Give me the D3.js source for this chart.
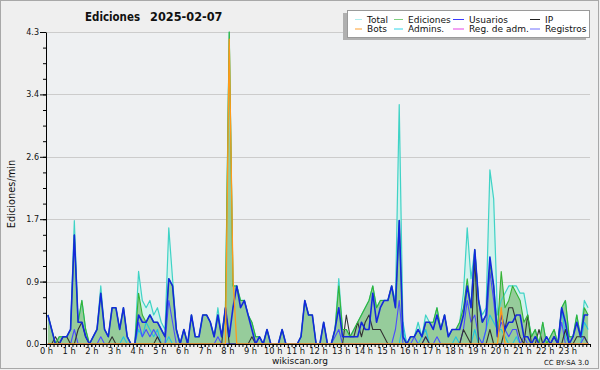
<!DOCTYPE html>
<html>
<head>
<meta charset="utf-8">
<script src="https://cdn.jsdelivr.net/npm/d3@7/dist/d3.min.js"></script>
<style>
  body { margin: 0; background: #efefef; }
  text { font-family: "DejaVu Sans", sans-serif; fill: #111; }
</style>
</head>
<body>
<script>
// 10-minute buckets, edits per minute
var categories = ["Total", "Ediciones", "Usuarios", "IP", "Bots", "Admins.", "Reg. de adm.", "Registros"];
var hourLabels = ["0 h","1 h","2 h","3 h","4 h","5 h","6 h","7 h","8 h","9 h","10 h","11 h",
                  "12 h","13 h","14 h","15 h","16 h","17 h","18 h","19 h","20 h","21 h","22 h","23 h"];
var yTicks = [0, 0.86, 1.72, 2.58, 3.44, 4.3];

var total = [
  0.4,0.2,0,0.1,0.1,0.1,0.2,1.7,0.3,0.6,0.2,0,
  0.1,0.2,0.8,0.2,0.1,0.5,0.5,0.2,0.5,0.1,0,0,
  1.0,0.6,0.5,0.6,0.4,0.5,0.3,0.2,1.6,0.9,0.2,0,
  0.2,0,0.4,0.1,0.1,0.4,0.4,0.3,0.1,0.5,0.1,0.5,
  4.3,0.8,0.8,0.6,0.6,0.4,0.3,0.1,0.1,0,0.2,0,
  0,0,0.2,0,0,0,0,0.1,0.6,0.4,0.4,0,
  0,0.3,0,0,0.2,0.9,0.2,0.2,0.1,0.2,0.3,0.4,
  0.5,0.6,0.8,0.5,0.6,0.6,0.6,0.8,0.6,3.3,0.2,0,
  0.1,0.1,0.3,0.1,0.4,0.3,0.3,0.5,0.2,0.4,0.1,0.2,
  0.2,0.3,0.7,1.6,0.9,1.3,0.6,0.4,0.5,2.4,2.0,0.4,
  0.6,0.7,0.8,0.8,0.8,0.7,0.7,0.4,0.1,0.2,0,0.3,
  0,0.1,0.2,0,0.5,0.6,0.1,0.1,0.4,0.1,0.6,0.5
];
var ediciones = [
  0.4,0.2,0,0.1,0.1,0.1,0.2,1.5,0.3,0.6,0.2,0,
  0.1,0.2,0.7,0.2,0.1,0.5,0.5,0.2,0.5,0.1,0,0,
  0.7,0.4,0.3,0.4,0.3,0.3,0.2,0.1,0.9,0.8,0.2,0,
  0.2,0,0.4,0.1,0.1,0.4,0.4,0.3,0.1,0.4,0.1,0.5,
  4.3,0.8,0.8,0.6,0.6,0.4,0.3,0.1,0.1,0,0.2,0,
  0,0,0.2,0,0,0,0,0.1,0.6,0.4,0.4,0,
  0,0.3,0,0,0.2,0.8,0.2,0.2,0.1,0.2,0.3,0.4,
  0.5,0.6,0.8,0.5,0.6,0.6,0.6,0.8,0.5,1.7,0.1,0,
  0.1,0.1,0.2,0.1,0.3,0.3,0.3,0.5,0.2,0.4,0.1,0.2,
  0.2,0.3,0.5,0.9,0.5,1.3,0.6,0.3,0.4,1.1,0.8,0.2,
  1.0,0.5,0.6,0.8,0.7,0.6,0.3,0.4,0.1,0.2,0,0.3,
  0,0.1,0.2,0,0.5,0.6,0.1,0.1,0.4,0.1,0.5,0.4
];
var usuarios = [
  0.4,0.2,0,0,0.1,0.1,0.2,1.5,0.3,0.3,0.1,0,
  0.1,0.2,0.7,0.2,0.1,0.5,0.5,0.2,0.5,0.1,0,0,
  0.4,0.3,0.3,0.4,0.3,0.3,0.2,0.1,0.9,0.8,0.2,0,
  0.2,0,0.4,0.1,0.1,0.4,0.4,0.3,0.1,0.4,0.1,0.5,
  0.1,0.5,0.8,0.5,0.6,0.4,0.2,0,0.1,0,0.2,0,
  0,0,0.2,0,0,0,0,0.1,0.6,0.4,0.4,0,
  0,0.3,0,0,0.2,0.5,0.1,0.1,0.1,0.1,0.1,0.3,
  0.2,0.2,0.7,0.3,0.5,0.6,0.6,0.8,0.5,1.7,0.1,0,
  0.1,0.1,0.2,0.1,0.3,0.3,0.2,0.4,0.2,0.4,0.1,0.2,
  0.2,0.2,0.4,0.8,0.5,1.3,0.6,0.3,0.4,1.2,0.8,0.1,
  0.4,0.2,0.3,0.3,0.4,0.4,0.1,0.1,0,0.1,0,0,
  0.1,0,0.1,0,0.5,0.3,0,0.1,0.3,0.1,0.4,0.4
];
var ip = [
  0,0,0.1,0,0.1,0.1,0,0,0.2,0.3,0.1,0,
  0,0,0,0,0,0.1,0,0,0,0,0,0,
  0,0,0,0,0,0.1,0,0,0,0,0,0,
  0,0,0,0,0,0,0,0,0,0,0,0.5,
  0,0,0,0,0,0,0.1,0,0,0,0,0,
  0,0,0,0,0,0,0,0,0,0,0,0,
  0,0,0,0,0,0,0,0.4,0.1,0.1,0.3,0.1,
  0.3,0.4,0.2,0.2,0.2,0.1,0,0,0,0,0,0,
  0,0,0,0,0.1,0,0,0,0,0,0,0,
  0,0,0.2,0.1,0,1.2,0,0,0,0.2,0,0,
  0,0.2,0.5,0.5,0.3,0.1,0,0.4,0,0,0.2,0,
  0,0,0.1,0,0,0.2,0,0,0.1,0.1,0.1,0
];
var bots = [
  0,0,0,0,0,0,0,0,0,0,0,0,
  0,0,0,0,0,0,0,0,0,0,0,0,
  0,0,0,0,0,0,0,0,0,0,0,0,
  0,0,0,0,0,0,0,0,0,0,0,0,
  4.2,0.9,0,0,0,0,0,0,0,0,0,0,
  0,0,0,0,0,0,0,0,0,0,0,0,
  0,0,0,0,0,0,0,0,0,0,0,0,
  0,0,0,0,0,0,0,0,0,0,0,0,
  0,0,0,0,0,0,0,0,0,0,0,0,
  0,0,0,0,0,0,0,0,0,0,0,0,
  0.5,0,0,0,0,0,0,0,0,0,0,0,
  0,0,0,0,0,0,0,0,0,0,0,0
];
var admins = [
  0,0,0,0,0,0,0,0,0,0,0,0,
  0,0,0,0,0,0,0,0,0.1,0,0,0,
  0.2,0.1,0.3,0.2,0.1,0.2,0,0,0.1,0,0,0,
  0,0,0,0,0,0,0,0,0,0,0,0,
  0,0,0,0,0,0,0,0,0,0,0,0,
  0,0,0,0,0,0,0,0,0,0,0,0,
  0,0,0,0,0,0,0,0,0,0,0,0,
  0,0,0,0,0,0,0,0,0,0,0.3,0,
  0,0,0,0.1,0.2,0,0,0,0,0,0,0,
  0.1,0,0,0,0,0.2,0,0,0.2,0.4,0.3,0.2,
  0.2,0.1,0,0,0.1,0,0,0,0,0,0,0,
  0,0,0,0,0.5,0.1,0,0,0,0,0.3,0.2
];
var regAdm = [
  0,0,0,0,0,0,0,0,0,0,0,0,
  0,0,0,0,0,0,0,0,0,0,0,0,
  0,0,0,0,0,0,0,0,0,0,0,0,
  0,0,0,0,0,0,0,0,0,0,0,0,
  0,0,0,0,0,0,0,0,0,0,0,0,
  0,0,0,0,0,0,0,0,0,0,0,0,
  0,0,0,0,0,0,0,0,0,0,0,0,
  0,0,0,0,0,0,0,0,0,0,0,0,
  0,0,0,0,0,0,0,0,0,0,0,0,
  0,0,0,0,0,0,0,0,0,0,0,0,
  0,0,0,0,0,0,0,0,0,0,0,0,
  0,0,0,0,0,0,0,0,0,0,0,0
];
var registros = [
  0,0,0,0,0,0,0,0.2,0,0,0,0,
  0,0,0.1,0,0,0,0,0,0,0,0,0,
  0.3,0.1,0.2,0.1,0.2,0.1,0,0,0.6,0.3,0,0,
  0,0,0,0,0,0,0,0,0,0.1,0,0,
  0,0,0,0,0,0,0,0,0.1,0,0,0,
  0,0,0,0,0,0,0,0,0,0,0,0,
  0,0,0,0,0.1,0.2,0,0,0,0,0,0,
  0,0,0,0,0,0,0,0,0.2,0.6,0,0,
  0,0.1,0,0,0.1,0,0,0.1,0,0,0,0,
  0,0,0.2,0.6,0.3,0.4,0.1,0,0.2,1.0,0.6,0.1,
  0.3,0.2,0.1,0.2,0.2,0,0.1,0,0,0,0,0,
  0,0,0,0,0.3,0,0,0,0,0,0.1,0
];

function init() {
    var w = 600, h = 370;
    var left = 46, right = 590, top = 32, bottom = 344;

    var svg = d3.select("body").append("svg")
        .attr("width", w)
        .attr("height", h);

    // outer frame
    svg.append("rect")
        .attr("x", 0.5).attr("y", 0.5)
        .attr("width", w - 2).attr("height", h - 2)
        .attr("fill", "#efefef")
        .attr("stroke", "#a8a8a8");

    // plot background
    svg.append("rect")
        .attr("x", left).attr("y", top)
        .attr("width", right - left).attr("height", bottom - top)
        .attr("fill", "#eef0f2");

    var x = d3.scaleLinear().domain([0, 1440]).range([left, right]);
    var y = d3.scaleLinear().domain([0, 4.3]).range([bottom, top]);

    // grid
    svg.append("g").selectAll("line")
        .data(yTicks.slice(1))
        .enter().append("line")
        .attr("x1", left).attr("x2", right)
        .attr("y1", function (d) { return Math.round(y(d)) + 0.5; })
        .attr("y2", function (d) { return Math.round(y(d)) + 0.5; })
        .attr("stroke", "#cccccc");

    // bucket centre in minutes
    function minute(i) { return i * 10 + 5; }

    var area = d3.area()
        .x(function (d, i) { return x(minute(i)); })
        .y0(bottom)
        .y1(function (d) { return y(d); });
    var line = d3.line()
        .x(function (d, i) { return x(minute(i)); })
        .y(function (d) { return y(d); });

    var plot = svg.append("g");

    plot.append("path").datum(total)
        .attr("d", area).attr("fill", "#cdf2ec").attr("fill-opacity", 0.85);
    plot.append("path").datum(ediciones)
        .attr("d", area).attr("fill", "#8cc68c").attr("fill-opacity", 0.85);

    var lines = [
        { data: total,     color: "#3fd3c6", width: 1.2 },
        { data: admins,    color: "#22c4dc", width: 1.1 },
        { data: regAdm,    color: "#e23ce2", width: 1.1 },
        { data: registros, color: "#4b4bff", width: 1.1 },
        { data: ip,        color: "#333333", width: 1.1 },
        { data: ediciones, color: "#35b335", width: 1.1 },
        { data: usuarios,  color: "#1428dc", width: 1.6 },
        { data: bots,      color: "#ff9a1a", width: 1.3 }
    ];
    plot.selectAll("path.ln")
        .data(lines)
        .enter().append("path")
        .attr("class", "ln")
        .attr("d", function (d) { return line(d.data); })
        .attr("fill", "none")
        .attr("stroke", function (d) { return d.color; })
        .attr("stroke-width", function (d) { return d.width; })
        .attr("stroke-linejoin", "round");

    // y axis
    var yMinor = svg.append("g")
        .attr("transform", "translate(" + left + ",0)")
        .call(d3.axisLeft(y).tickValues(d3.range(0, 4.31, 0.215)).tickSize(3).tickFormat(""));
    yMinor.select(".domain").remove();
    var yAxis = svg.append("g")
        .attr("transform", "translate(" + left + ",0)")
        .call(d3.axisLeft(y).tickValues(yTicks).tickSize(6).tickSizeOuter(0).tickPadding(1)
            .tickFormat(function (d) { return d.toFixed(1); }));
    yAxis.selectAll("text").style("font-size", "8px").attr("fill", "#111");

    // x axis
    var xMinor = svg.append("g")
        .attr("transform", "translate(0," + bottom + ")")
        .call(d3.axisBottom(x).tickValues(d3.range(0, 1441, 10)).tickSize(3).tickFormat(""));
    xMinor.select(".domain").remove();
    var xAxis = svg.append("g")
        .attr("transform", "translate(0," + bottom + ")")
        .call(d3.axisBottom(x).tickValues(hourLabels.map(function (d, i) { return i * 60; }))
            .tickSize(3).tickSizeOuter(0).tickPadding(1)
            .tickFormat(function (d, i) { return hourLabels[i]; }));
    xAxis.selectAll("text").style("font-size", "8.3px").attr("fill", "#111");
    svg.selectAll(".domain").attr("stroke", "#000");

    // title
    svg.append("text").attr("x", 85).attr("y", 21)
        .attr("textLength", 55).attr("lengthAdjust", "spacingAndGlyphs")
        .style("font-size", "12.5px").style("font-weight", "bold")
        .text("Ediciones");
    svg.append("text").attr("x", 150).attr("y", 21)
        .attr("textLength", 72.5).attr("lengthAdjust", "spacingAndGlyphs")
        .style("font-size", "12.5px").style("font-weight", "bold")
        .text("2025-02-07");

    // y label
    svg.append("text")
        .attr("transform", "translate(15,194) rotate(-90)")
        .attr("text-anchor", "middle")
        .style("font-size", "9.8px")
        .text("Ediciones/min");

    // footer
    svg.append("text").attr("x", 300).attr("y", 364)
        .attr("text-anchor", "middle").style("font-size", "9px")
        .text("wikiscan.org");
    svg.append("text").attr("x", 589).attr("y", 365)
        .attr("text-anchor", "end").style("font-size", "7px").attr("fill", "#333")
        .text("CC BY-SA 3.0");

    // legend
    var legendColors = ["#aeeeee", "#7fd07f", "#3b3bff", "#222222", "#ffa030", "#33d6ea", "#e545e5", "#7070ff"];
    var colX = [355, 394, 453, 530];
    var colW = [7, 9, 11, 10];
    var lg = svg.append("g");
    lg.append("rect").attr("x", 343).attr("y", 13).attr("width", 243).attr("height", 27).attr("fill", "#b0b0b0");
    lg.append("rect").attr("x", 347.5).attr("y", 10.5).attr("width", 242).attr("height", 27)
        .attr("fill", "#ffffff").attr("stroke", "#9a9a9a");
    var items = lg.selectAll("g.item")
        .data(categories)
        .enter().append("g")
        .attr("class", "item")
        .attr("transform", function (d, i) {
            var col = i % 4, row = Math.floor(i / 4);
            return "translate(" + colX[col] + "," + (19.5 + row * 9.5) + ")";
        });
    items.append("line")
        .attr("x1", 0)
        .attr("x2", function (d, i) { return colW[i % 4]; })
        .attr("stroke", function (d, i) { return legendColors[i]; })
        .attr("stroke-width", 1);
    items.append("text")
        .attr("x", function (d, i) { return colW[i % 4] + 5; })
        .attr("y", 3.3)
        .style("font-size", "9px")
        .text(function (d) { return d; });
}

window.onload = init;
</script>
</body>
</html>
